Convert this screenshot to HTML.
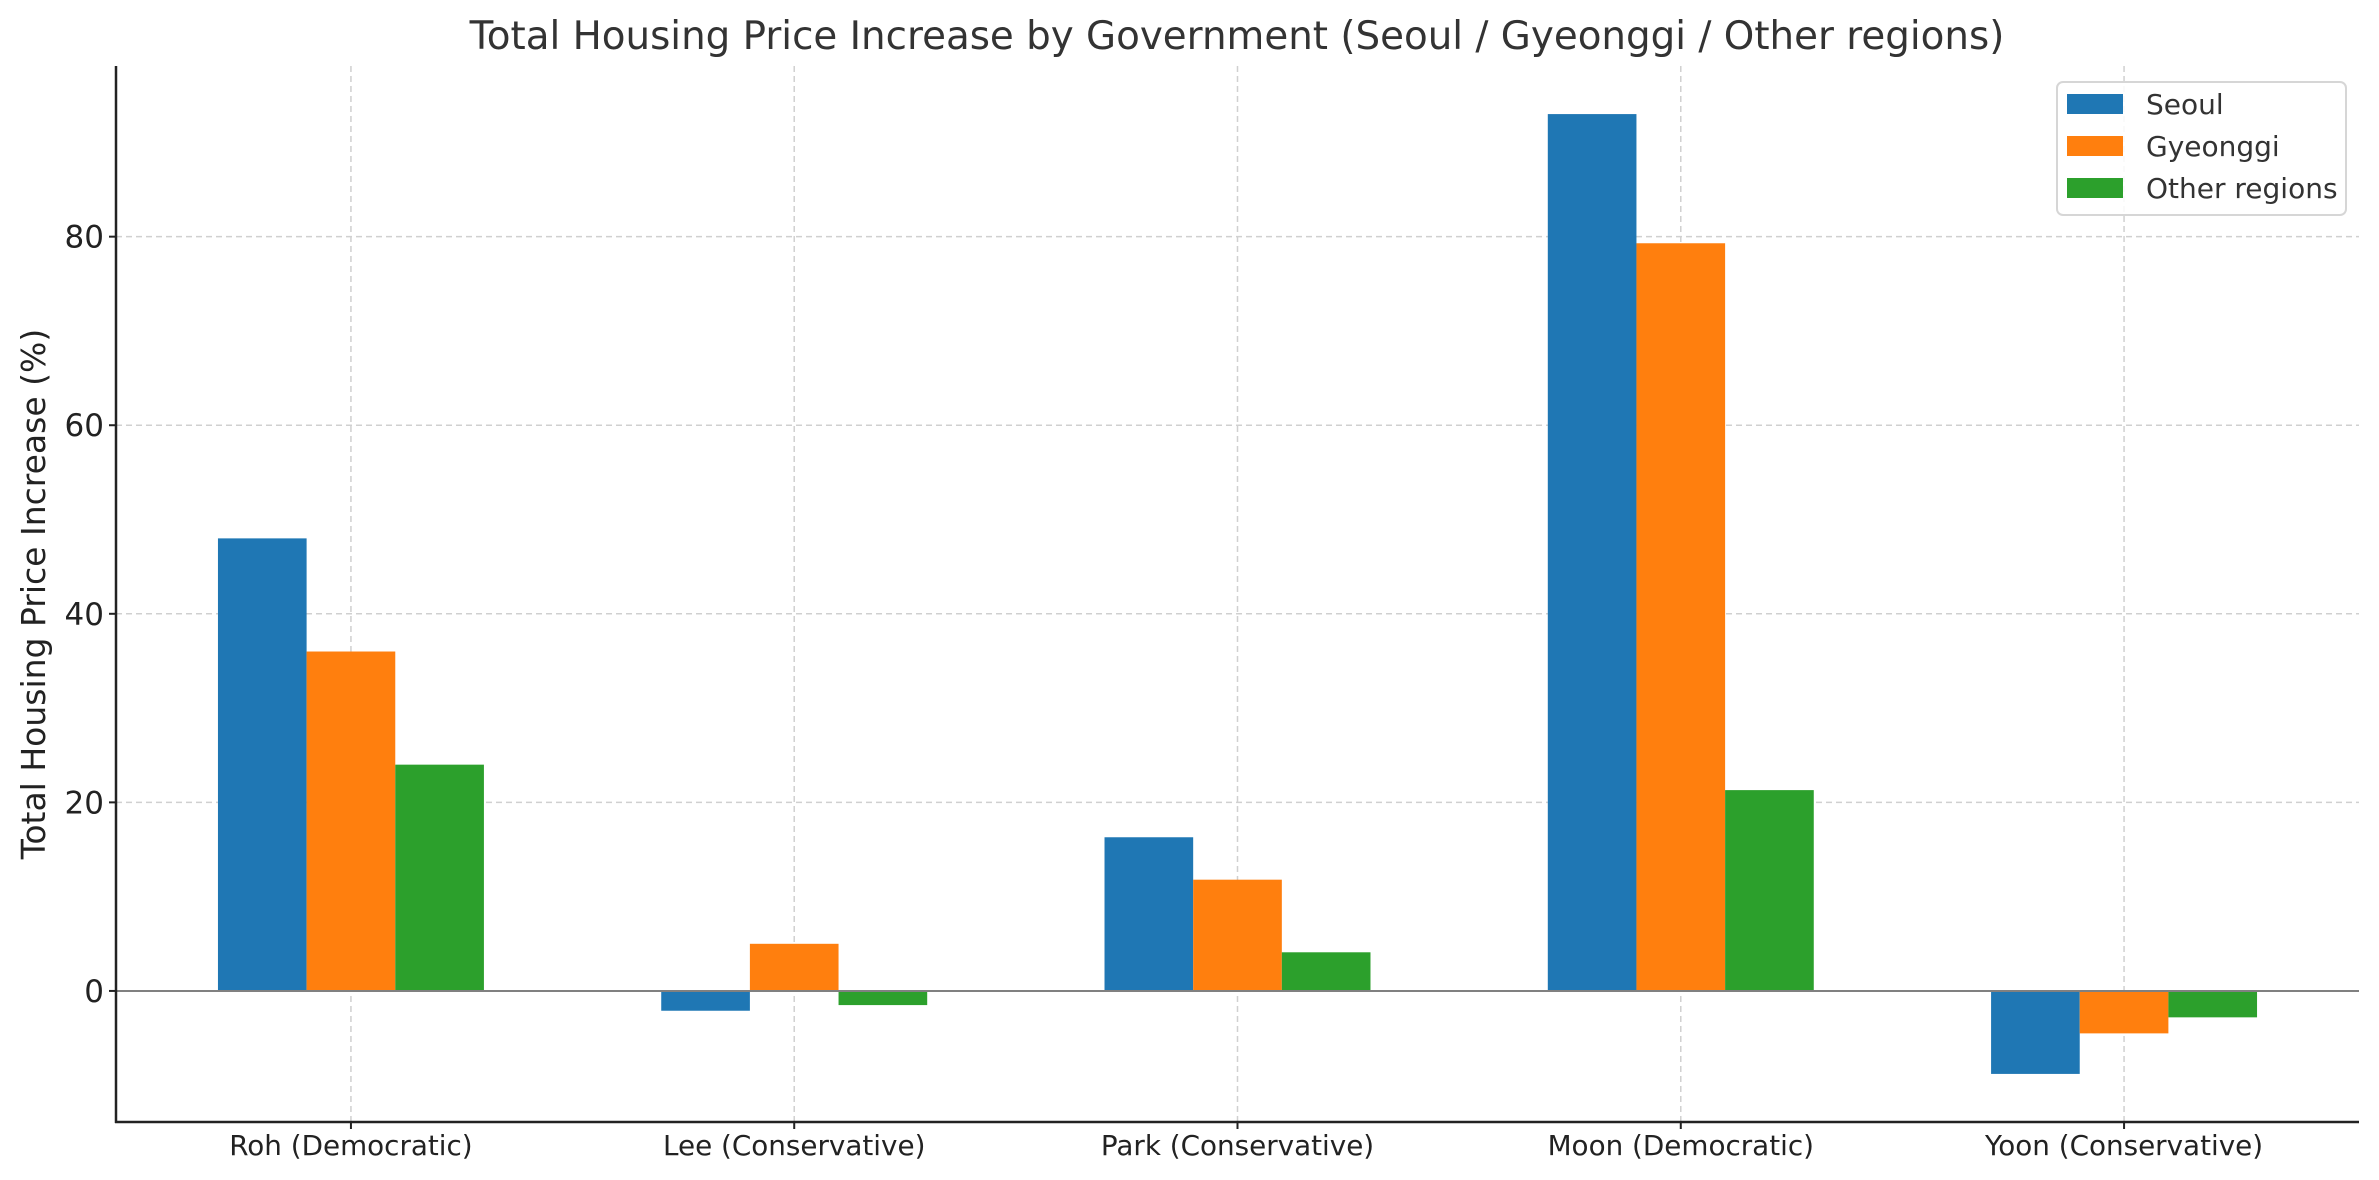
<!DOCTYPE html>
<html><head><meta charset="utf-8"><style>
html,body{margin:0;padding:0;background:#fff;}
svg{display:block;font-family:"DejaVu Sans","Liberation Sans",sans-serif;}
</style></head><body>
<svg id="chart" width="2379" height="1180" viewBox="0 0 2379 1180">
<text x="1237" y="49" text-anchor="middle" font-size="38.8" fill="#333">Total Housing Price Increase by Government (Seoul / Gyeonggi / Other regions)</text>
<g id="grid"></g>
<g id="bars"></g>
<g id="axes"></g>
<text transform="translate(45,594) rotate(-90)" text-anchor="middle" font-size="33" fill="#222">Total Housing Price Increase (%)</text>
<g>
<rect x="2057" y="82" width="289" height="133" rx="6" fill="#fff" fill-opacity="0.85" stroke="#d6d6d6" stroke-width="2"/>
<g><rect x="2067" y="94" width="56" height="20" fill="#1f77b4"/><text x="2146" y="114" font-size="28" fill="#333">Seoul</text></g>
<g><rect x="2067" y="136" width="56" height="20" fill="#ff7f0e"/><text x="2146" y="156" font-size="28" fill="#333">Gyeonggi</text></g>
<g><rect x="2067" y="178" width="56" height="20" fill="#2ca02c"/><text x="2146" y="198" font-size="28" fill="#333">Other regions</text></g>
</g>
</svg>
<script>
const categories = ["Roh (Democratic)","Lee (Conservative)","Park (Conservative)","Moon (Democratic)","Yoon (Conservative)"];
const seoul = [48, -2.1, 16.3, 93, -8.8];
const gyeonggi = [36, 5, 11.8, 79.3, -4.5];
const otherRegions = [24, -1.5, 4.1, 21.3, -2.8];
const yTicks = [0, 20, 40, 60, 80];

const NS = "http://www.w3.org/2000/svg";
const L = 116, R = 2359, T = 66, B = 1122;
const yMin = -13.9, yMax = 98.1;
const xMin = -0.53, xMax = categories.length - 1 + 0.53;
function xs(v){ return L + (v - xMin) / (xMax - xMin) * (R - L); }
function ys(v){ return B - (v - yMin) / (yMax - yMin) * (B - T); }
function mk(tag, attrs, parent){ const e = document.createElementNS(NS, tag); for (const k in attrs) e.setAttribute(k, attrs[k]); parent.appendChild(e); return e; }

const grid = document.getElementById('grid');
const bars = document.getElementById('bars');
const axes = document.getElementById('axes');

yTicks.forEach(t => {
  const y = ys(t);
  const g = mk('line', {x1:L, x2:R, y1:y, y2:y, stroke:'#d0d0d0', 'stroke-width':1.5, 'stroke-dasharray':'6,4'}, grid);
  
  
  const tk = mk('line', {x1:L-7, x2:L, y1:y, y2:y, stroke:'#222', 'stroke-width':2}, axes);
  
  
  const lb = mk('text', {x:L-12, y:y+11, 'text-anchor':'end', 'font-size':31, fill:'#222'}, axes);
  lb.textContent = t;
  
  
});
categories.forEach((c, i) => {
  const x = xs(i);
  const g = mk('line', {x1:x, x2:x, y1:T, y2:B, stroke:'#d0d0d0', 'stroke-width':1.5, 'stroke-dasharray':'6,4'}, grid);
  
  
  const tk = mk('line', {x1:x, x2:x, y1:B, y2:B+7, stroke:'#222', 'stroke-width':2}, axes);
  
  
  const lb = mk('text', {x:x, y:1155, 'text-anchor':'middle', 'font-size':27.8, fill:'#222'}, axes);
  lb.textContent = c;
  
  
});

const series = [[seoul,'#1f77b4','seoul'],[gyeonggi,'#ff7f0e','gyeonggi'],[otherRegions,'#2ca02c','other-regions']];
const w = 0.2;
series.forEach((s, si) => {
  s[0].forEach((v, i) => {
    const x0 = xs(i + (si - 1) * w - w/2), x1 = xs(i + (si - 1) * w + w/2);
    const y0 = ys(0), y1 = ys(v);
    const r = mk('rect', {x:x0, y:Math.min(y0,y1), width:x1-x0, height:Math.abs(y1-y0), fill:s[1]}, bars);
    
    
  });
});

const zl = mk('line', {x1:L, x2:R, y1:ys(0), y2:ys(0), stroke:'#808080', 'stroke-width':2}, axes);


const ya = mk('line', {x1:L, x2:L, y1:T, y2:B+1, stroke:'#222', 'stroke-width':2.5}, axes);


const xa = mk('line', {x1:L-1, x2:R, y1:B, y2:B, stroke:'#222', 'stroke-width':2.5}, axes);


</script>
</body></html>
